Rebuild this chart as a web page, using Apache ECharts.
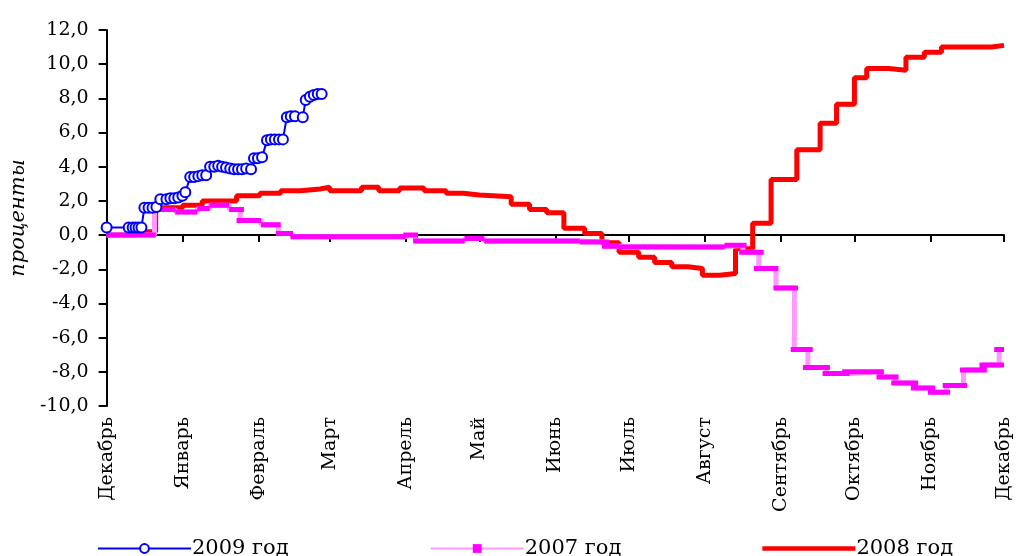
<!DOCTYPE html>
<html>
<head>
<meta charset="utf-8">
<script src="https://cdn.jsdelivr.net/npm/echarts@6/dist/echarts.min.js"></script>
<style>html,body{margin:0;padding:0;background:#fff;}#c{width:1016px;height:556px;}</style>
</head>
<body>
<div id="c"></div>
<script>
// X axis: days counted from 1 December; month starts used as tick labels
const monthNames = ['Декабрь','Январь','Февраль','Март','Апрель','Май','Июнь','Июль','Август','Сентябрь','Октябрь','Ноябрь','Декабрь'];
const monthStartDays = [0,31,62,91,122,152,183,213,244,275,305,336,366];

// 2009 год (blue, daily points)
const days2009 = [0,9,10.6,11.8,13,14.2,15.4,17.1,18.7,20.3,21.9,24.4,26,27.6,29.2,30.9,32.1,34.1,35.7,37.4,39,40.6,42.2,43.9,45.5,47.1,48.7,50.4,52,53.6,55.2,56.9,58.9,60.1,61.7,63.4,65.4,67,68.6,70.3,71.9,73.5,75.1,76.8,80,81.2,82.9,84.5,86.1,87.7];
const values2009 = [0.45,0.45,0.45,0.45,0.45,0.45,1.6,1.6,1.6,1.65,2.1,2.1,2.15,2.15,2.2,2.3,2.5,3.4,3.4,3.45,3.5,3.5,4.0,4.0,4.05,4.0,3.95,3.9,3.85,3.85,3.85,3.9,3.85,4.5,4.5,4.55,5.55,5.6,5.6,5.6,5.6,6.9,6.95,6.95,6.9,7.9,8.1,8.2,8.25,8.25];

// 2007 год (magenta, steps: start day, end day, value)
const start2007 = [0,19,28,37,42,50,53,63,69,75,121,125,146,154,193,202,209,252,258,264,272,279,284,292,300,314,320,328,335,341,348,356,362];
const end2007   = [20,28,37,42,50,56,63,71,76,122,127,146,154,193,205,209,252,261,268,274,282,288,295,303,317,323,331,338,344,351,359,366,366];
const value2007 = [0.0,1.5,1.35,1.55,1.75,1.5,0.85,0.6,0.1,-0.1,0.0,-0.35,-0.2,-0.35,-0.4,-0.65,-0.7,-0.6,-1.0,-1.95,-3.1,-6.7,-7.75,-8.1,-8.0,-8.3,-8.65,-8.95,-9.2,-8.8,-7.9,-7.6,-6.7];

// 2008 год (red, step line: day where a level begins, level)
const days2008 = [0,12,20,21,31,39,53,62.5,71,79,87,91,104,111,119.5,129.5,138.5,145.5,152,165,172.5,179.5,186.5,195,202,209,217,223.5,230.5,237,243,250,256.5,263.5,271,281.5,291,297.7,305,310,319,326,333.5,340.5,361,366];
const values2008 = [0.0,0.2,1.45,1.6,1.75,2.0,2.3,2.45,2.6,2.7,2.8,2.6,2.8,2.6,2.75,2.6,2.45,2.35,2.25,1.8,1.5,1.3,0.4,0.1,-0.45,-1.0,-1.3,-1.6,-1.85,-1.95,-2.35,-2.25,-0.8,0.7,3.25,5.0,6.55,7.65,9.2,9.75,9.65,10.4,10.7,11.0,11.1,11.1];

const data2009 = days2009.map((d, i) => [d, values2009[i]]);
const data2008 = days2008.map((d, i) => [d, values2008[i]]);
// pink connecting path
const path2007 = [];
for (let i = 0; i < value2007.length; i++) {
  const s = i === 0 ? start2007[0] : (end2007[i - 1] + start2007[i]) / 2;
  const e = i === value2007.length - 1 ? end2007[i] : (end2007[i] + start2007[i + 1]) / 2;
  path2007.push([s, value2007[i]], [e, value2007[i]]);
}
// thick magenta levels
const bars2007 = [];
for (let i = 0; i < value2007.length; i++) {
  bars2007.push([start2007[i], value2007[i]], [end2007[i], value2007[i]], [end2007[i], '-']);
}

const FONT = 'DejaVu Serif';
const chart = echarts.init(document.getElementById('c'), null, {renderer: 'canvas'});
chart.setOption({
  animation: false,
  backgroundColor: '#fff',
  grid: {left: 103, right: 12, top: 30, bottom: 150},
  legend: {
    data: ['2009 год', '2007 год', {name: '2008 год', icon: 'path://M0,0H100V5H0Z'}],
    left: 92, top: 533,
    itemWidth: 93, itemHeight: 11, itemGap: 141,
    textStyle: {fontFamily: FONT, fontSize: 21, color: '#000', padding: [0, 0, 0, -4]}
  },
  xAxis: [{
    type: 'value', min: 0, max: 366, position: 'bottom',
    axisLine: {show: true, onZero: true, lineStyle: {color: '#000', width: 2}},
    axisTick: {show: true, customValues: monthStartDays, length: 7, lineStyle: {color: '#000', width: 2}},
    axisLabel: {show: false},
    splitLine: {show: false}
  }, {
    type: 'value', min: 0, max: 366, position: 'bottom',
    axisLine: {show: false, onZero: false},
    axisTick: {show: false},
    axisLabel: {
      show: true, customValues: monthStartDays, rotate: 90, margin: 11,
      fontFamily: FONT, fontSize: 19, color: '#000',
      formatter: v => monthNames[monthStartDays.indexOf(v)]
    },
    splitLine: {show: false}
  }],
  yAxis: {
    type: 'value', min: -10, max: 12, interval: 2,
    name: 'проценты', nameLocation: 'middle', nameRotate: 90, nameGap: 63,
    nameTextStyle: {fontFamily: FONT, fontStyle: 'italic', fontSize: 21, color: '#000'},
    axisLine: {show: true, onZero: false, lineStyle: {color: '#000', width: 2}},
    axisTick: {show: true, length: 8, lineStyle: {color: '#000', width: 2}},
    axisLabel: {fontFamily: FONT, fontSize: 19, color: '#000', margin: 18,
      formatter: v => v.toFixed(1).replace('.', ',')},
    splitLine: {show: false}
  },
  series: [{
    name: '2008 год', type: 'line', step: 'end', data: data2008,
    showSymbol: false, symbol: 'none',
    lineStyle: {color: '#FF0000', width: 5}, itemStyle: {color: '#FF0000'}, z: 2
  }, {
    name: '2007 год', type: 'line', data: path2007,
    symbol: 'rect', symbolSize: 7, showSymbol: false,
    lineStyle: {color: '#FF99FF', width: 5}, itemStyle: {color: '#FF00FF'}, z: 3
  }, {
    name: '2007 уровни', type: 'line', data: bars2007, connectNulls: false,
    showSymbol: false, symbol: 'none',
    lineStyle: {color: '#FF00FF', width: 5, cap: 'butt'}, z: 4
  }, {
    name: '2009 год', type: 'line', data: data2009,
    symbol: 'emptyCircle', symbolSize: 10, showSymbol: true,
    lineStyle: {color: '#0000FF', width: 2},
    itemStyle: {color: '#0000FF', borderColor: '#0000FF', borderWidth: 2.5}, z: 5
  }]
});
</script>
</body>
</html>
